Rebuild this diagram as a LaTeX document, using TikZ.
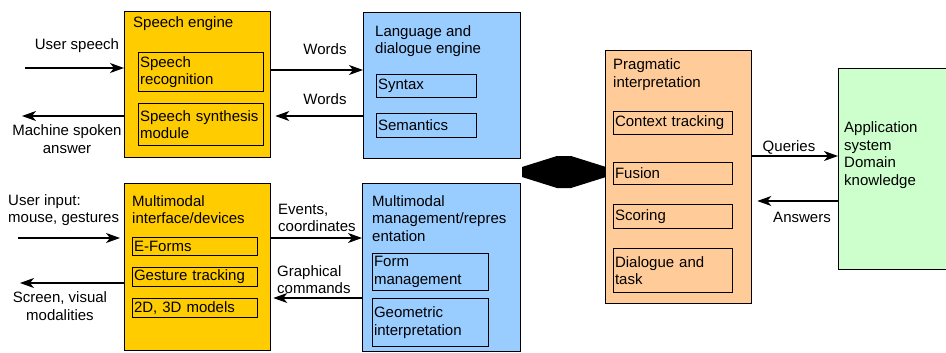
\documentclass[tikz,border=0pt]{standalone}
\usepackage{fontspec}
\setmainfont{Liberation Sans}
\usetikzlibrary{positioning,arrows.meta}
\definecolor{speechc}{HTML}{FFCC00}
\definecolor{langc}{HTML}{99CCFF}
\definecolor{pragc}{HTML}{FFCC99}
\definecolor{appc}{HTML}{CCFFCC}

\begin{document}
\begin{tikzpicture}[x=1pt,y=-1pt,
      font=\fontsize{15pt}{17.7pt}\selectfont,
      outer/.style={draw,line width=1.3pt,anchor=north west,inner sep=0pt},
      part/.style={draw,line width=1.1pt,anchor=north west,inner xsep=1.5pt,inner ysep=0pt,align=left},
      lbl/.style={inner sep=0pt,align=left},
      post/.style={-{Stealth[length=14pt,width=10pt,inset=4pt]},line width=1.3pt}
      ]
      \useasboundingbox (0,0) rectangle (946,353);

      \fill (522,167) -- (557,156) -- (571,156) -- (606,167) -- (606,177)
        -- (571,188) -- (557,188) -- (522,177) -- cycle;

      \node[outer, fill=speechc, minimum width=146pt, minimum height=146pt] (speech) at (124,11) {};
      \node[outer, fill=langc, minimum width=157pt, minimum height=146pt] (lang) at (363,12) {};
      \node[outer, fill=speechc, minimum width=146pt, minimum height=167pt] (mmi) at (124,183) {};
      \node[outer, fill=langc, minimum width=158pt, minimum height=168pt] (mmm) at (362,183) {};
      \node[outer, fill=pragc, minimum width=146pt, minimum height=253pt] (prag) at (605,50) {};
      \node[outer, fill=appc, minimum width=120pt, minimum height=201pt] (app) at (838,68) {};

      \node[part, text width=122pt, minimum height=39pt] (rec) at (138,52) {Speech\\recognition};
      \node[part, text width=122pt, minimum height=42pt] (synth) at (138,103) {Speech synthesis\\module};
      \node[part, text width=97pt, minimum height=23pt] (syn) at (376,74) {Syntax};
      \node[part, text width=97pt, minimum height=24pt] (sem) at (376,113) {Semantics};
      \node[part, text width=122pt, minimum height=18pt] (eforms) at (132,237) {E-Forms};
      \node[part, text width=122pt, minimum height=19pt] (gest) at (132,267) {Gesture tracking};
      \node[part, text width=122pt, minimum height=19pt] (models) at (132,298) {2D, 3D models};
      \node[part, text width=113pt, minimum height=37pt] (formm) at (372,253) {Form\\management};
      \node[part, text width=113pt, minimum height=48pt] (geom) at (372,298) {Geometric\\interpretation};
      \node[part, text width=116pt, minimum height=23pt] (ctx) at (613,111) {Context tracking};
      \node[part, text width=116pt, minimum height=22pt] (fus) at (613,162) {Fusion};
      \node[part, text width=116pt, minimum height=24pt] (scor) at (613,204) {Scoring};
      \node[part, text width=116pt, minimum height=44pt] (dial) at (613,248) {Dialogue and\\task};

      \node[lbl, anchor=west] (speechT) at (133,24) {Speech engine};
      \node[lbl, anchor=west] (langT) at (375,41) {Language and\\dialogue engine};
      \node[lbl, anchor=west] (mmiT) at (132,209.5) {Multimodal\\interface/devices};
      \node[lbl, anchor=west] (mmmT) at (372,218.5) {Multimodal\\management/repres\\entation};
      \node[lbl, anchor=west] (pragT) at (613,74.5) {Pragmatic\\interpretation};
      \node[lbl, anchor=west] (appT) at (844,155) {Application\\system\\Domain\\knowledge};

      \node[lbl] (uspeechL) at (77,46) {User speech};
      \node[lbl, align=center] (answerL) at (67,139) {Machine spoken\\answer};
      \node[lbl] (words1L) at (325,49) {Words};
      \node[lbl] (words2L) at (325,99) {Words};
      \node[lbl, anchor=west] (uinputL) at (8,210) {User input:\\mouse, gestures};
      \node[lbl, align=center] (screenL) at (60,306) {Screen, visual\\modalities};
      \node[lbl, anchor=west] (eventsL) at (278,218) {Events,\\coordinates};
      \node[lbl, anchor=west] (graphL) at (277,279.5) {Graphical\\commands};
      \node[lbl] (queriesL) at (789,147) {Queries};
      \node[lbl] (answersL) at (802,217) {Answers};

      \coordinate (uspeech) at (25,68);
      \coordinate (answer) at (22,116);
      \coordinate (uinput) at (18,238);
      \coordinate (screen) at (20,283);

      \draw[post] (uspeech) -- (uspeech -| speech.west);
      \draw[post] (answer -| speech.west) -- (answer);
      \draw[post] (speech.east |- 0,70) -- (lang.west |- 0,70);
      \draw[post, shorten >=4pt] (lang.west |- 0,116) -- (speech.east |- 0,116);

      \draw[post, shorten >=4pt] (uinput) -- (uinput -| mmi.west);
      \draw[post] (screen -| mmi.west) -- (screen);
      \draw[post] (mmi.east |- 0,238) -- (mmm.west |- 0,238);
      \draw[post, shorten >=2pt] (mmm.west |- 0,298) -- (mmi.east |- 0,298);

      \draw[post] (prag.east |- 0,156) -- (app.west |- 0,156);
      \draw[post, shorten >=5pt] (app.west |- 0,201) -- (prag.east |- 0,201);
    \end{tikzpicture}
\end{document}
